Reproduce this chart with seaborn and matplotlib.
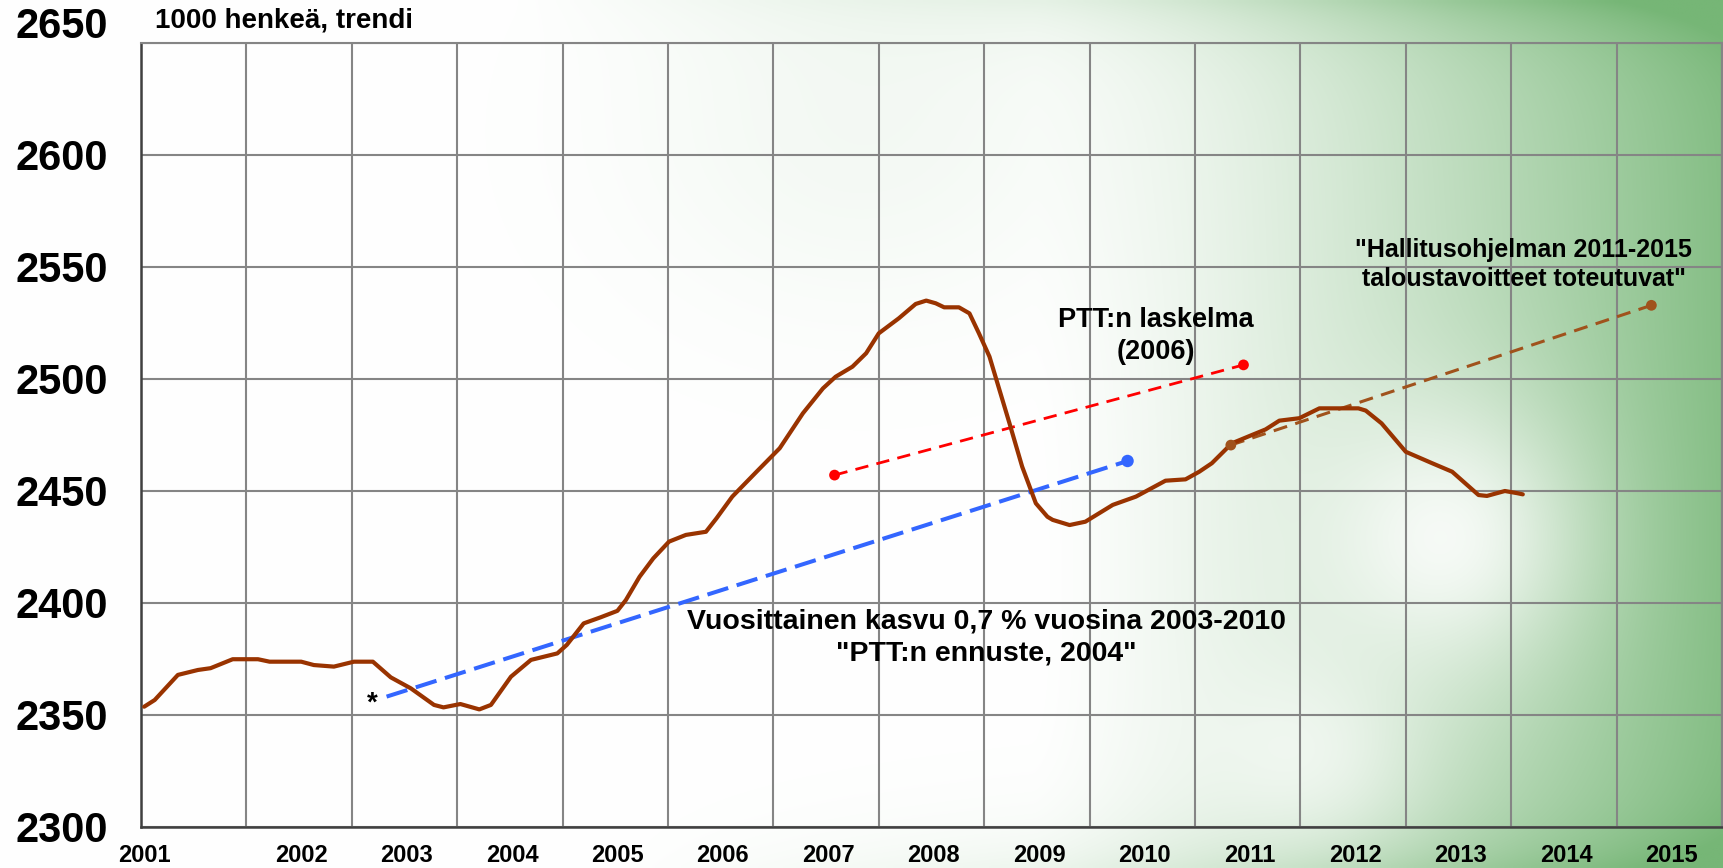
import numpy as np
import pandas as pd
import matplotlib
matplotlib.use("Agg")
import matplotlib.pyplot as plt
from matplotlib.transforms import ScaledTranslation
import seaborn as sns

# ---------------- data ----------------
# x positions in "year" units (gridline k = 2001 + k), values in 1000 persons
trend_x = [2001.03, 2001.13, 2001.35, 2001.54, 2001.66, 2001.87, 2002.11, 2002.22, 2002.52,
           2002.64, 2002.83, 2003.02, 2003.20, 2003.37, 2003.56, 2003.78, 2003.87, 2004.03,
           2004.21, 2004.32, 2004.51, 2004.70, 2004.95, 2005.04, 2005.20, 2005.36, 2005.52,
           2005.60, 2005.73, 2005.86, 2006.01, 2006.17, 2006.36, 2006.46, 2006.61, 2006.84,
           2007.06, 2007.28, 2007.47, 2007.59, 2007.75, 2007.88, 2008.00, 2008.19, 2008.35,
           2008.45, 2008.54, 2008.62, 2008.76, 2008.86, 2008.95, 2009.05, 2009.24, 2009.36,
           2009.49, 2009.60, 2009.65, 2009.81, 2009.96, 2010.22, 2010.44, 2010.72, 2010.91,
           2011.04, 2011.16, 2011.35, 2011.54, 2011.67, 2011.80, 2011.99, 2012.18, 2012.55,
           2012.62, 2012.77, 2013.00, 2013.25, 2013.44, 2013.69, 2013.77, 2013.94, 2014.06,
           2014.11]
trend_v = [2353.7, 2356.7, 2367.9, 2370.1, 2370.9, 2374.9, 2374.9, 2373.8, 2373.8,
           2372.3, 2371.6, 2373.8, 2373.8, 2366.8, 2361.9, 2354.5, 2353.4, 2354.9,
           2352.5, 2354.5, 2367.1, 2374.6, 2377.5, 2381.3, 2390.9, 2393.6, 2396.5,
           2401.3, 2411.7, 2419.9, 2427.4, 2430.4, 2431.8, 2437.8, 2447.5, 2458.6,
           2469.1, 2484.7, 2495.8, 2501.0, 2505.5, 2511.5, 2520.4, 2527.1, 2533.5,
           2535.0, 2533.8, 2532.0, 2532.0, 2529.3, 2520.4, 2510.0, 2480.2, 2460.9,
           2444.5, 2438.5, 2437.1, 2434.8, 2436.3, 2443.8, 2447.5, 2454.6, 2455.2,
           2458.6, 2462.4, 2471.3, 2475.0, 2477.5, 2481.4, 2482.5, 2486.9, 2486.9,
           2485.9, 2480.2, 2467.5, 2462.4, 2458.6, 2448.2, 2447.8, 2450.0, 2449.0,
           2448.5]

ptt2004_x = [2003.33, 2010.36]
ptt2004_v = [2358.2, 2463.4]
ptt2006_x = [2007.58, 2011.46]
ptt2006_v = [2457.1, 2506.3]
hallitus_x = [2011.34, 2015.33]
hallitus_v = [2470.5, 2532.9]

year_labels = ["2001", "2002", "2003", "2004", "2005", "2006", "2007", "2008",
               "2009", "2010", "2011", "2012", "2013", "2014", "2015"]
y_ticks = [2300, 2350, 2400, 2450, 2500, 2550, 2600, 2650]

# ---------------- style ----------------
sns.set_style("white")
plt.rcParams["font.family"] = ["Liberation Sans", "DejaVu Sans"]
plt.rcParams["font.weight"] = "bold"
plt.rcParams["text.color"] = "black"
plt.rcParams["xtick.color"] = "black"
plt.rcParams["ytick.color"] = "black"

W, H, DPI = 1723, 868, 100
fig = plt.figure(figsize=(W / DPI, H / DPI), dpi=DPI)

# background: white on the left, green towards the right with a light swirl
bg = fig.add_axes([0, 0, 1, 1], zorder=-10)
gx, gy = np.meshgrid(np.linspace(0, 1, 400), np.linspace(0, 1, 200))
w = 0.88 * np.clip((gx - 0.60) / 0.40, 0, 1) ** 1.3
w = w * (1 - 0.85 * np.exp(-((gx - 0.84) ** 2 / 0.006 + (gy - 0.62) ** 2 / 0.025)))
w = w * (1 - 0.60 * np.exp(-((gx - 0.76) ** 2 / 0.004 + (gy - 0.88) ** 2 / 0.015)))
w = w + 0.28 * np.exp(-gy / 0.045) * np.clip((gx - 0.30) / 0.55, 0, 1)
w = w + 0.22 * np.exp(-(1 - gy) / 0.05) * np.clip((gx - 0.35) / 0.45, 0, 1)
w = w + 0.08 * np.exp(-((gx - 0.50) ** 2 / 0.02 + (gy - 0.15) ** 2 / 0.05))
w = np.clip(w, 0, 1)
green = np.array([118, 182, 118]) / 255.0
img = (1 - w[..., None]) * 1.0 + w[..., None] * green
bg.imshow(img, aspect="auto", extent=[0, 1, 0, 1], interpolation="bilinear")
bg.set_axis_off()

left, right, top, bottom = 141, 1722, 43, 827
ax = fig.add_axes([left / W, 1 - bottom / H, (right - left) / W, (bottom - top) / H])
ax.set_facecolor("none")

# main series
df = pd.DataFrame({"x": trend_x, "v": trend_v})
sns.lineplot(data=df, x="x", y="v", ax=ax, color="#993300", linewidth=3.0,
             sort=False, estimator=None, zorder=5)

# projections
sns.lineplot(x=ptt2004_x, y=ptt2004_v, ax=ax, color="#3366ff", linewidth=2.9,
             linestyle=(0, (5.4, 2.2)), sort=False, estimator=None, zorder=4)
sns.scatterplot(x=ptt2004_x[1:], y=ptt2004_v[1:], ax=ax, color="#3366ff", s=80,
                edgecolor="none", zorder=6)
sns.lineplot(x=ptt2006_x, y=ptt2006_v, ax=ax, color="#ff0000", linewidth=2.0,
             linestyle=(0, (4.8, 3.0)), sort=False, estimator=None, zorder=4)
sns.scatterplot(x=ptt2006_x, y=ptt2006_v, ax=ax, color="#ff0000", s=60,
                edgecolor="none", zorder=6)
sns.lineplot(x=hallitus_x, y=hallitus_v, ax=ax, color="#a0521c", linewidth=2.2,
             linestyle=(0, (4.6, 2.8)), sort=False, estimator=None, zorder=4)
sns.scatterplot(x=hallitus_x, y=hallitus_v, ax=ax, color="#a0521c", s=60,
                edgecolor="none", zorder=6)

# axes
ax.set_xlim(2001, 2016)
ax.set_ylim(2300, 2650)
ax.set_xlabel("")
ax.set_ylabel("")

ax.set_xticks(np.arange(2001, 2017), minor=True)
label_pos = [2001.03] + [int(t) + 0.52 for t in year_labels[1:]]
ax.set_xticks(label_pos, labels=year_labels)
ax.set_yticks(y_ticks, labels=[str(t) for t in y_ticks])

ax.grid(False)
ax.grid(True, which="minor", axis="x", color="#858585", linewidth=1.5, zorder=1)
ax.grid(True, which="major", axis="y", color="#858585", linewidth=1.5, zorder=1)
ax.set_axisbelow(True)

ax.tick_params(axis="x", which="both", length=0, pad=12, labelsize=17)
ax.tick_params(axis="y", which="both", length=0, pad=24, labelsize=30)
for lab in ax.get_xticklabels() + ax.get_yticklabels():
    lab.set_fontweight("bold")
    lab.set_color("black")

# top label 2650 sits above its gridline
for lab in ax.get_yticklabels():
    if lab.get_text() == "2650":
        lab.set_transform(lab.get_transform() + ScaledTranslation(0, 20 / DPI, fig.dpi_scale_trans))

for side in ["top", "right"]:
    ax.spines[side].set_color("#858585")
    ax.spines[side].set_linewidth(1.5)
for side in ["left", "bottom"]:
    ax.spines[side].set_color("#404040")
    ax.spines[side].set_linewidth(1.8)

# texts
fig.text(155 / W, 1 - 20 / H, "1000 henkeä, trendi", fontsize=20, fontweight="bold",
         ha="left", va="center", color="black")
ax.text(2003.19, 2355.2, "*", fontsize=20, fontweight="bold", ha="center", va="center",
        color="black")
ax.text(2010.63, 2519.0, "PTT:n laskelma\n(2006)", fontsize=19.5, fontweight="bold",
        ha="center", va="center", multialignment="center", linespacing=1.3, color="black")
ax.text(2014.12, 2551.1, "\"Hallitusohjelman 2011-2015\ntaloustavoitteet toteutuvat\"",
        fontsize=18, fontweight="bold", ha="center", va="center",
        multialignment="center", linespacing=1.25, color="black")
ax.text(2009.02, 2384.8, "Vuosittainen kasvu 0,7 % vuosina 2003-2010\n\"PTT:n ennuste, 2004\"",
        fontsize=20.5, fontweight="bold", ha="center", va="center",
        multialignment="center", linespacing=1.3, color="black")

fig.savefig("out.png", dpi=DPI)
